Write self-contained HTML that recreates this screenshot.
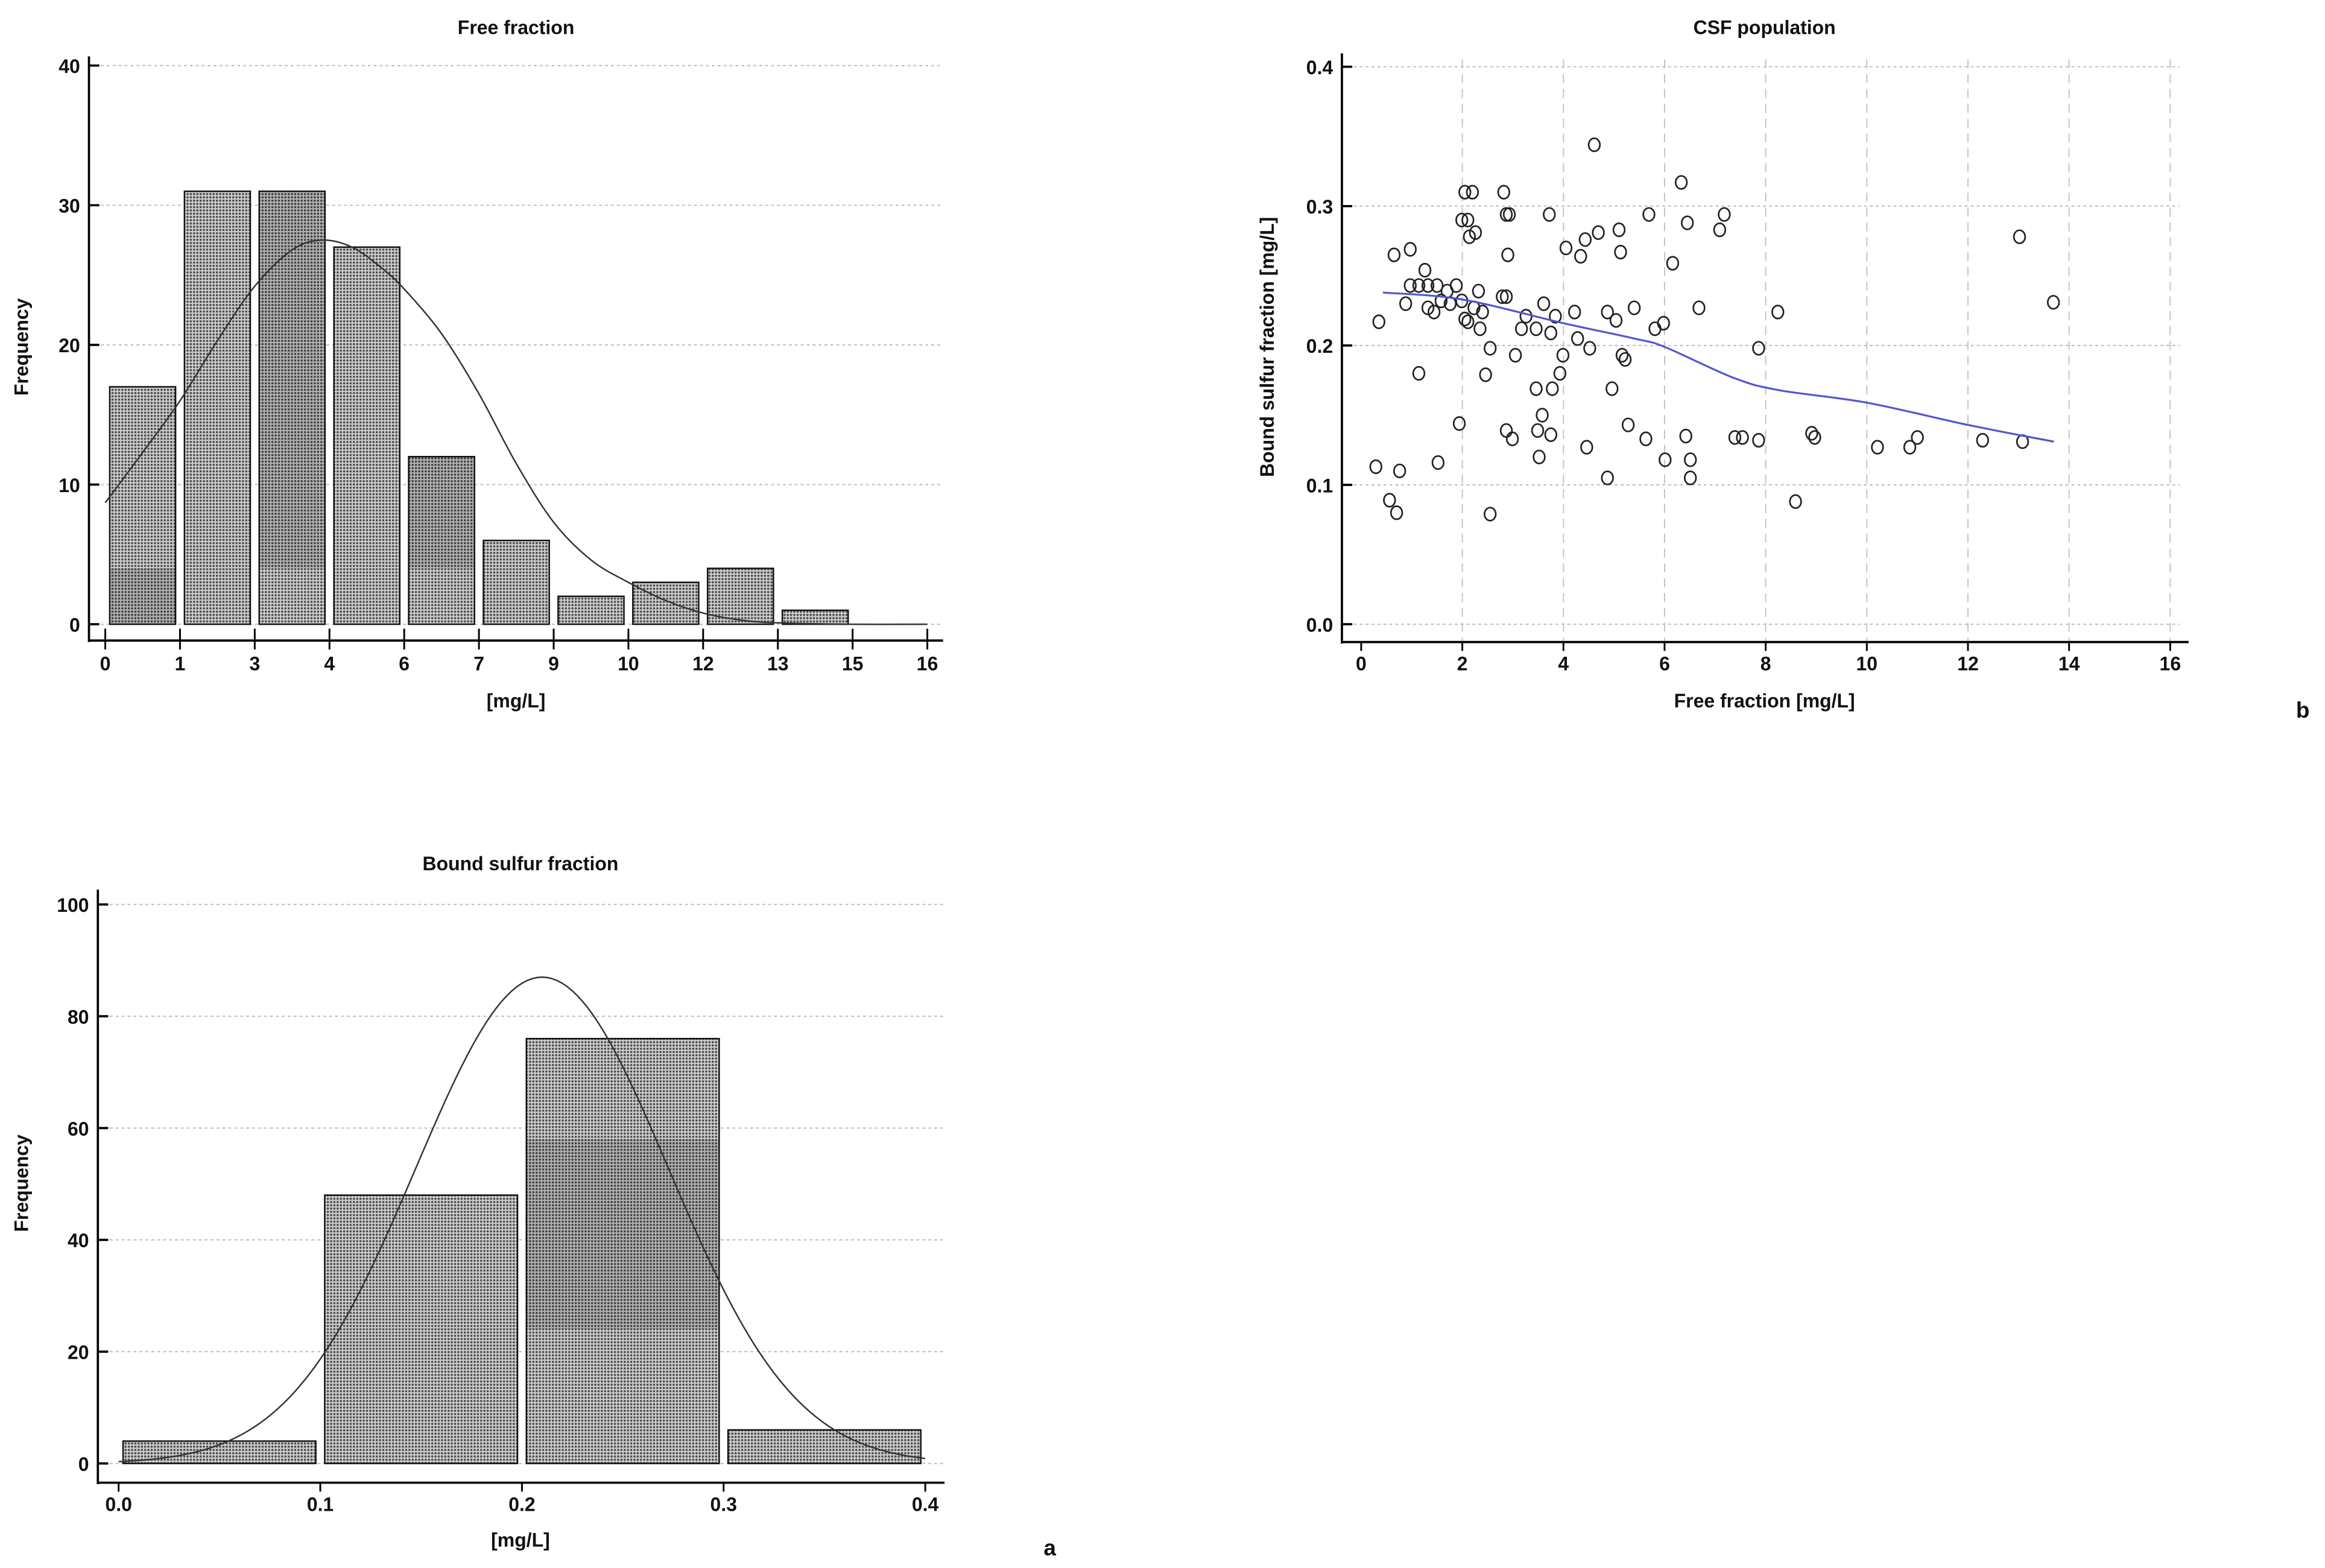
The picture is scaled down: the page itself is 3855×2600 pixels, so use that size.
<!DOCTYPE html>
<html><head><meta charset="utf-8">
<style>
html,body{margin:0;padding:0;background:#fff;}
svg{display:block;}
text{font-family:"Liberation Sans",sans-serif;fill:#111;}
</style></head>
<body>
<svg id="fig" width="3855" height="2600" viewBox="0 0 1568 1057.5" xmlns="http://www.w3.org/2000/svg">
<defs>
<pattern id="stip" width="2.2" height="2.2" patternUnits="userSpaceOnUse">
<rect width="2.2" height="2.2" fill="#cfcfcf"/>
<circle cx="1.1" cy="1.1" r="0.75" fill="#4a4a4a"/>
</pattern>
</defs>
<rect width="1568" height="1057.5" fill="#fff"/>
<g id="c1"></g>
<g id="c2"></g>
<g id="c3"></g>
<text x="708" y="1049" font-size="15" font-weight="bold" text-anchor="middle">a</text>
<text x="1553" y="484" font-size="15" font-weight="bold" text-anchor="middle">b</text>
</svg>
<script>
// ---- Chart 1 data ----
const freeBinLabels = ["0","1","3","4","6","7","9","10","12","13","15","16"];
const freeCounts = [17,31,31,27,12,6,2,3,4,1,0];
const freeYTicks = [0,10,20,30,40];
const freeCurveX = [0,0.5,1,1.5,2,2.5,2.9,3.3,3.7,4,4.5,5,5.5,6,6.5,7,7.5,8,8.5,9,10,11];
const freeCurveY = [8.7,12.3,16,20.3,24.2,26.8,27.5,27.0,25.5,24.0,20.8,16.5,11.5,7.3,4.6,3.0,1.7,0.8,0.3,0.1,0,0];
// ---- Chart 2 data ----
const boundEdges = [0.0,0.1,0.2,0.3,0.4];
const boundCounts = [4,48,76,6];
const boundXTicks = ["0.0","0.1","0.2","0.3","0.4"];
const boundYTicks = [0,20,40,60,80,100];
const boundFitMean = [0.21];
const boundFitSd = [0.0627];
const boundFitPeak = [87];
// ---- Chart 3 data ----
const scatX = [0.35,0.29,0.56,0.70,0.76,0.65,0.97,0.88,0.97,1.14,1.14,1.26,1.32,1.32,1.44,1.50,1.52,1.58,1.70,1.76,1.88,1.94,1.99,1.99,2.05,2.05,2.11,2.11,2.14,2.20,2.23,2.26,2.32,2.35,2.40,2.46,2.55,2.55,2.79,2.82,2.87,2.87,2.87,2.90,2.93,2.99,3.05,3.17,3.26,3.46,3.46,3.49,3.52,3.58,3.61,3.72,3.75,3.75,3.78,3.84,3.93,3.99,4.05,4.22,4.28,4.34,4.43,4.46,4.61,4.52,4.69,4.87,4.87,4.96,5.04,5.10,5.13,5.16,5.22,5.28,5.40,5.63,5.69,5.81,5.98,6.01,6.16,6.33,6.42,6.45,6.51,6.51,6.68,7.09,7.18,7.39,7.54,7.86,7.86,8.24,8.59,8.91,8.97,10.21,10.85,11.0,12.29,13.02,13.08,13.69];
const scatY = [0.217,0.113,0.089,0.080,0.110,0.265,0.269,0.230,0.243,0.243,0.180,0.254,0.243,0.227,0.224,0.243,0.116,0.232,0.239,0.230,0.243,0.144,0.290,0.232,0.310,0.219,0.290,0.217,0.278,0.310,0.227,0.281,0.239,0.212,0.224,0.179,0.079,0.198,0.235,0.310,0.294,0.235,0.139,0.265,0.294,0.133,0.193,0.212,0.221,0.212,0.169,0.139,0.120,0.150,0.230,0.294,0.209,0.136,0.169,0.221,0.180,0.193,0.270,0.224,0.205,0.264,0.276,0.127,0.344,0.198,0.281,0.105,0.224,0.169,0.218,0.283,0.267,0.193,0.190,0.143,0.227,0.133,0.294,0.212,0.216,0.118,0.259,0.317,0.135,0.288,0.118,0.105,0.227,0.283,0.294,0.134,0.134,0.132,0.198,0.224,0.088,0.137,0.134,0.127,0.127,0.134,0.132,0.278,0.131,0.231];
const loessX = [0.43,2,4,5.4,6,7.35,8.25,10,12,13.7];
const loessY = [0.238,0.233,0.216,0.205,0.199,0.177,0.168,0.159,0.143,0.131];
const scatXTicks = [0,2,4,6,8,10,12,14,16];
const scatYTicks = [0,0.1,0.2,0.3,0.4];

const NS="http://www.w3.org/2000/svg";
function mk(parent,tag,attrs,txt){const e=document.createElementNS(NS,tag);for(const k in attrs)e.setAttribute(k,attrs[k]);if(txt!==undefined)e.textContent=txt;parent.appendChild(e);return e;}
function smoothPath(p){let d='M'+p[0][0]+','+p[0][1];for(let i=0;i<p.length-1;i++){const p0=p[i-1]||p[i],p1=p[i],p2=p[i+1],p3=p[i+2]||p2;const c1=[p1[0]+(p2[0]-p0[0])/6,p1[1]+(p2[1]-p0[1])/6],c2=[p2[0]-(p3[0]-p1[0])/6,p2[1]-(p3[1]-p1[1])/6];d+=' C'+c1+' '+c2+' '+p2;}return d;}

// ===== Chart 1 =====
(function(){
const g=document.getElementById('c1');
const x0=71, bw=50.4, y0=421, ppu=9.42;
const X=b=>x0+b*bw, Y=v=>y0-v*ppu;
freeYTicks.forEach(v=>{
  const l=mk(g,'line',{x1:60,x2:635,y1:Y(v),y2:Y(v),stroke:'#bdbdbd','stroke-width':0.8,'stroke-dasharray':'2 2'});
  
  
  const t=mk(g,'text',{x:54,y:Y(v)+5,'font-size':13,'font-weight':'bold','text-anchor':'end'},String(v));
  
  
  mk(g,'line',{x1:60,x2:67,y1:Y(v),y2:Y(v),stroke:'#000','stroke-width':1.5});
});
freeCounts.forEach((c,i)=>{
  const r=mk(g,'rect',{x:X(i)+3,y:Y(c),width:bw-6,height:c*ppu,fill:'url(#stip)',stroke:'#111','stroke-width':1});
  
  
});
[[0,0,4],[2,4,31],[4,4,12]].forEach(d=>{
  mk(g,'rect',{x:X(d[0])+3.5,y:Y(d[2]),width:bw-7,height:(d[2]-d[1])*ppu,fill:'#000','fill-opacity':0.13});
});
const pts=freeCurveX.map((b,i)=>[X(b),Y(freeCurveY[i])]);
const pl=mk(g,'path',{d:smoothPath(pts),fill:'none',stroke:'#333','stroke-width':1});


mk(g,'line',{x1:60,x2:60,y1:38,y2:433,stroke:'#000','stroke-width':1.5});
mk(g,'line',{x1:60,x2:636,y1:432,y2:432,stroke:'#000','stroke-width':1.5});
freeBinLabels.forEach((lab,i)=>{
  mk(g,'line',{x1:X(i),x2:X(i),y1:424,y2:438,stroke:'#000','stroke-width':1.2});
  const t=mk(g,'text',{x:X(i),y:452,'font-size':13,'font-weight':'bold','text-anchor':'middle'},lab);
  
  
});
const tt=mk(g,'text',{x:348,y:23,'font-size':13,'font-weight':'bold','text-anchor':'middle'},'Free fraction');


const xl=mk(g,'text',{x:348,y:477,'font-size':13,'font-weight':'bold','text-anchor':'middle'},'[mg/L]');


const yl=mk(g,'text',{x:0,y:0,'font-size':13,'font-weight':'bold','text-anchor':'middle',transform:'translate(19,234) rotate(-90)'},'Frequency');


})();

// ===== Chart 2 =====
(function(){
const g=document.getElementById('c2');
const X=v=>80+v*1360, Y=v=>987-v*3.77;
boundYTicks.forEach(v=>{
  const l=mk(g,'line',{x1:66,x2:636,y1:Y(v),y2:Y(v),stroke:'#bdbdbd','stroke-width':0.8,'stroke-dasharray':'2 2'});
  
  
  const t=mk(g,'text',{x:60,y:Y(v)+5,'font-size':13,'font-weight':'bold','text-anchor':'end'},String(v));
  
  
  mk(g,'line',{x1:66,x2:73,y1:Y(v),y2:Y(v),stroke:'#000','stroke-width':1.5});
});
boundCounts.forEach((c,i)=>{
  const xa=X(boundEdges[i])+3, xb=X(boundEdges[i+1])-3;
  const r=mk(g,'rect',{x:xa,y:Y(c),width:xb-xa,height:c*3.77,fill:'url(#stip)',stroke:'#111','stroke-width':1});
  
  
});
mk(g,'rect',{x:X(0.2)+3.5,y:Y(58),width:X(0.3)-X(0.2)-7,height:34*3.77,fill:'#000','fill-opacity':0.13});
let pts=[];
for(let k=0;k<=160;k++){const v=k*0.4/160;pts.push(X(v)+','+Y(boundFitPeak[0]*Math.exp(-Math.pow(v-boundFitMean[0],2)/(2*boundFitSd[0]*boundFitSd[0]))));}
const pl=mk(g,'polyline',{points:pts.join(' '),fill:'none',stroke:'#333','stroke-width':1});


mk(g,'line',{x1:66,x2:66,y1:600,y2:1001,stroke:'#000','stroke-width':1.5});
mk(g,'line',{x1:66,x2:637,y1:1000,y2:1000,stroke:'#000','stroke-width':1.5});
boundXTicks.forEach(lab=>{
  const x=X(parseFloat(lab));
  mk(g,'line',{x1:x,x2:x,y1:1000,y2:1006,stroke:'#000','stroke-width':1.2});
  const t=mk(g,'text',{x:x,y:1019,'font-size':13,'font-weight':'bold','text-anchor':'middle'},lab);
  
  
});
const tt=mk(g,'text',{x:351,y:587,'font-size':13,'font-weight':'bold','text-anchor':'middle'},'Bound sulfur fraction');


const xl=mk(g,'text',{x:351,y:1043,'font-size':13,'font-weight':'bold','text-anchor':'middle'},'[mg/L]');


const yl=mk(g,'text',{x:0,y:0,'font-size':13,'font-weight':'bold','text-anchor':'middle',transform:'translate(19,798) rotate(-90)'},'Frequency');


})();

// ===== Chart 3 =====
(function(){
const g=document.getElementById('c3');
const X=v=>918+v*34.1, Y=v=>421-v*940;
scatXTicks.forEach(v=>{
  if(v>0){const l=mk(g,'line',{x1:X(v),x2:X(v),y1:40,y2:433,stroke:'#c4c4c4','stroke-width':0.8,'stroke-dasharray':'6 4'});
  
  }
  mk(g,'line',{x1:X(v),x2:X(v),y1:433,y2:439,stroke:'#000','stroke-width':1.2});
  const t=mk(g,'text',{x:X(v),y:452,'font-size':13,'font-weight':'bold','text-anchor':'middle'},String(v));
  
  
});
scatYTicks.forEach(v=>{
  const l=mk(g,'line',{x1:905,x2:1470,y1:Y(v),y2:Y(v),stroke:'#bdbdbd','stroke-width':0.8,'stroke-dasharray':'2 2'});
  
  
  mk(g,'line',{x1:905,x2:912,y1:Y(v),y2:Y(v),stroke:'#000','stroke-width':1.5});
  const t=mk(g,'text',{x:899,y:Y(v)+5,'font-size':13,'font-weight':'bold','text-anchor':'end'},v.toFixed(1));
  
  
});
mk(g,'line',{x1:905,x2:905,y1:36,y2:434,stroke:'#000','stroke-width':1.5});
mk(g,'line',{x1:905,x2:1476,y1:433,y2:433,stroke:'#000','stroke-width':1.5});
scatX.forEach((xv,i)=>{
  const c=mk(g,'ellipse',{cx:X(xv),cy:Y(scatY[i]),rx:3.8,ry:4.4,fill:'none',stroke:'#222','stroke-width':1.1});
  
  
});
const lp=loessX.map((x,i)=>[X(x),Y(loessY[i])]);
const pl=mk(g,'path',{d:smoothPath(lp),fill:'none',stroke:'#5555cc','stroke-width':1.3});


const tt=mk(g,'text',{x:1190,y:23,'font-size':13,'font-weight':'bold','text-anchor':'middle'},'CSF population');


const xl=mk(g,'text',{x:1190,y:477,'font-size':13,'font-weight':'bold','text-anchor':'middle'},'Free fraction [mg/L]');


const yl=mk(g,'text',{x:0,y:0,'font-size':13,'font-weight':'bold','text-anchor':'middle',transform:'translate(859,234) rotate(-90)'},'Bound sulfur fraction [mg/L]');


})();
</script>
</body></html>
